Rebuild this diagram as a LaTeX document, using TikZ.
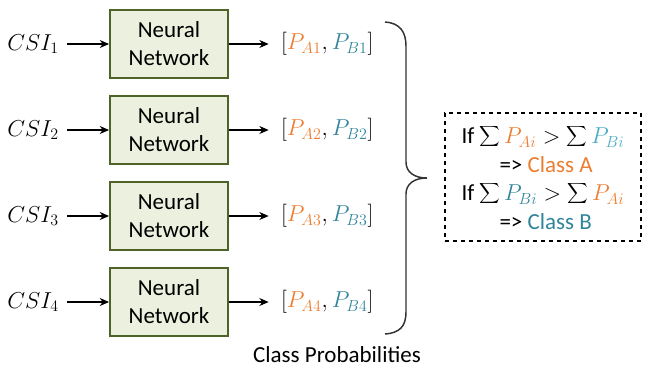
\documentclass[tikz,border=0pt]{standalone}
\usepackage{amsmath}
\usepackage{graphicx}
\usepackage{fontspec}
\setmainfont{Carlito}
\usepackage{tikz}
\usetikzlibrary{arrows.meta}
\definecolor{porange}{RGB}{237,125,49}
\definecolor{pblue}{RGB}{49,133,155}
\definecolor{plblue}{RGB}{75,172,198}
\definecolor{nnfill}{RGB}{235,241,222}
\definecolor{nnedge}{RGB}{79,98,40}
\newcommand{\smsum}{\mathop{\raisebox{0.08em}{$\vcenter{\hbox{\scalebox{0.62}{$\displaystyle\sum$}}}$}}\nolimits}
\tikzset{every picture/.style={line width=0.75pt}}
\tikzset{
  nnbox/.style={draw=nnedge,fill=nnfill,line width=1.4pt,minimum width=88.5pt,minimum height=51pt,align=center,inner sep=0pt,font=\fontsize{17.25}{21}\selectfont},
  csilbl/.style={anchor=east,inner sep=2pt},
  problbl/.style={anchor=west,inner sep=2pt},
  arr/.style={-{Stealth[length=7pt,width=6pt]},line width=0.9pt},
}

\begin{document}
\begin{tikzpicture}[x=0.75pt,y=0.75pt,yscale=-1,xscale=1,font=\fontsize{17.25}{20}\selectfont]
		\useasboundingbox (0,0) rectangle (651,369);
		
		%Shape: Rectangle [id:nn1] 
		\node [nnbox] (nn1) at (169,44) {Neural\\Network};
		%Shape: Rectangle [id:nn2] 
		\node [nnbox] (nn2) at (169,130) {Neural\\Network};
		%Shape: Rectangle [id:nn3] 
		\node [nnbox] (nn3) at (169,216) {Neural\\Network};
		%Shape: Rectangle [id:nn4] 
		\node [nnbox] (nn4) at (169,302) {Neural\\Network};
		
		% Text Node
		\node [csilbl] (csi1) at (62,44) {$CSI_{1}$};
		% Text Node
		\node [csilbl] (csi2) at (62,130) {$CSI_{2}$};
		% Text Node
		\node [csilbl] (csi3) at (62,216) {$CSI_{3}$};
		% Text Node
		\node [csilbl] (csi4) at (62,302) {$CSI_{4}$};
		
		% Text Node
		\node [problbl] (prob1) at (278,44) {$[{\color{porange}P_{A1}},{\color{pblue}P_{B1}}]$};
		% Text Node
		\node [problbl] (prob2) at (278,130) {$[{\color{porange}P_{A2}},{\color{pblue}P_{B2}}]$};
		% Text Node
		\node [problbl] (prob3) at (278,216) {$[{\color{porange}P_{A3}},{\color{pblue}P_{B3}}]$};
		% Text Node
		\node [problbl] (prob4) at (278,302) {$[{\color{porange}P_{A4}},{\color{pblue}P_{B4}}]$};
		
		%Straight Lines [id:arrows in] 
		\draw [arr,shorten <=4pt] (csi1) -- (nn1);
		\draw [arr,shorten <=4pt] (csi2) -- (nn2);
		\draw [arr,shorten <=4pt] (csi3) -- (nn3);
		\draw [arr,shorten <=4pt] (csi4) -- (nn4);
		
		%Straight Lines [id:arrows out] 
		\draw [arr,shorten >=7pt] (nn1) -- (prob1);
		\draw [arr,shorten >=7pt] (nn2) -- (prob2);
		\draw [arr,shorten >=7pt] (nn3) -- (prob3);
		\draw [arr,shorten >=7pt] (nn4) -- (prob4);
		
		%Shape: Brace [id:brace] 
		\draw [color={rgb,255:red,50;green,50;blue,50},line width=1.1pt] (385,22) .. controls (400,23) and (406,32) .. (406,46) -- (406,162) .. controls (406,172) and (414,178) .. (427,178) .. controls (414,178) and (406,184) .. (406,194) -- (406,312) .. controls (406,326) and (400,333) .. (385,334) ;
		
		%Shape: Rectangle [id:rule] 
		\node [draw,dashed,line width=1pt,minimum width=147pt,minimum height=96pt,align=left,inner sep=0pt,font=\fontsize{17.25}{21.4}\selectfont] (rule) at (543,177) {If $\smsum {\color{porange}P_{Ai}} > \smsum {\color{plblue}P_{Bi}}$\\
		\hspace*{1.65em}=> {\color{porange}Class A}\\
		If $\smsum {\color{pblue}P_{Bi}} > \smsum {\color{porange}P_{Ai}}$\\
		\hspace*{1.65em}=> {\color{pblue}Class B}};
		
		% Text Node
		\node (classprob) at (337,355) {Class Probabilities};
		
\end{tikzpicture}
\end{document}
